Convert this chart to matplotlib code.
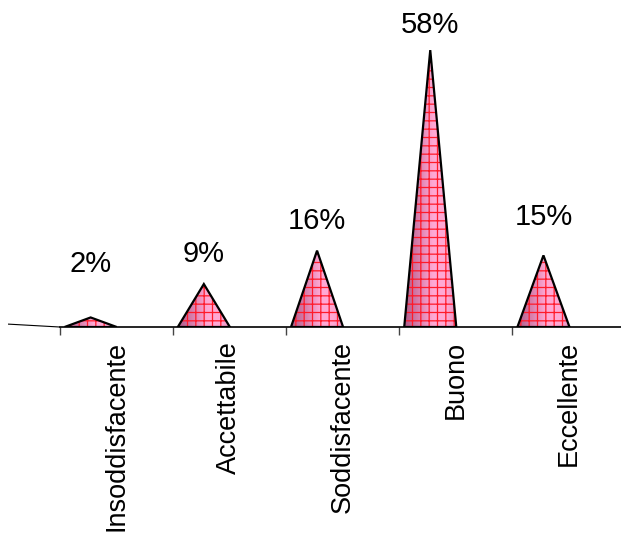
import numpy as np
import matplotlib
matplotlib.use("Agg")
import matplotlib.pyplot as plt
from matplotlib.patches import Polygon
from matplotlib.colors import LinearSegmentedColormap

plt.rcParams["font.family"] = ["Liberation Sans", "DejaVu Sans"]
plt.rcParams["hatch.linewidth"] = 0.9

# Data
categories = ["Insoddisfacente", "Accettabile", "Soddisfacente", "Buono", "Eccellente"]
values = [2, 9, 16, 58, 15]
labels = ["2%", "9%", "16%", "58%", "15%"]

# Style
label_gap_px = [39, 16, 16, 11, 24]   # space between cone tip and its label
cone_shift = -0.225                   # perspective shift of cones inside each slot
cone_half = 0.23                      # half width of the cone base

fig = plt.figure(figsize=(6.21, 5.33), dpi=100)
ax = fig.add_axes([8 / 621, 206 / 533, 613 / 621, 327 / 533])

shade = LinearSegmentedColormap.from_list(
    "cone",
    [(0.0, "#b05a88"), (0.3, "#dc82b0"), (0.55, "#ffa8d4"),
     (0.8, "#ffa8d4"), (1.0, "#e690bf")],
)
grad = np.linspace(0, 1, 256).reshape(1, -1)

x = np.arange(len(categories))
for xi, v, lab, gap in zip(x, values, labels, label_gap_px):
    cx = xi + cone_shift
    verts = [(cx - cone_half, 0), (cx, v), (cx + cone_half, 0)]

    clip = Polygon(verts, closed=True, facecolor="none", edgecolor="none")
    ax.add_patch(clip)
    im = ax.imshow(grad, cmap=shade, extent=(cx - cone_half, cx + cone_half, 0, v),
                   aspect="auto", interpolation="bilinear", zorder=2)
    im.set_clip_path(clip)

    ax.add_patch(Polygon(verts, closed=True, facecolor="none", edgecolor="#ff1a2a",
                         hatch="++", linewidth=0, zorder=3))
    ax.add_patch(Polygon(verts, closed=True, facecolor="none", edgecolor="black",
                         linewidth=1.6, joinstyle="miter", zorder=4))

    ax.annotate(lab, (cx, v), xytext=(0, gap * 0.72), textcoords="offset points",
                ha="center", va="bottom", fontsize=21)

# Floor edge at the left
ax.plot([-0.95, -0.5], [0.6, 0], color="black", linewidth=0.8, clip_on=False)

ax.set_xlim(-0.955, 4.46)
ax.set_ylim(0, 68.5)

for side in ["top", "right", "left"]:
    ax.spines[side].set_visible(False)
ax.spines["bottom"].set_bounds(-0.5, 4.46)
ax.spines["bottom"].set_linewidth(1.2)
ax.set_yticks([])

ax.set_xticks(x, labels=categories, rotation=90, fontsize=19.5)
ax.set_xticks(x - 0.5, minor=True)
ax.tick_params(axis="x", which="major", length=0, pad=10)
ax.tick_params(axis="x", which="minor", length=6, width=1, color="#444444", direction="out")

fig.savefig("out.png", dpi=100)
